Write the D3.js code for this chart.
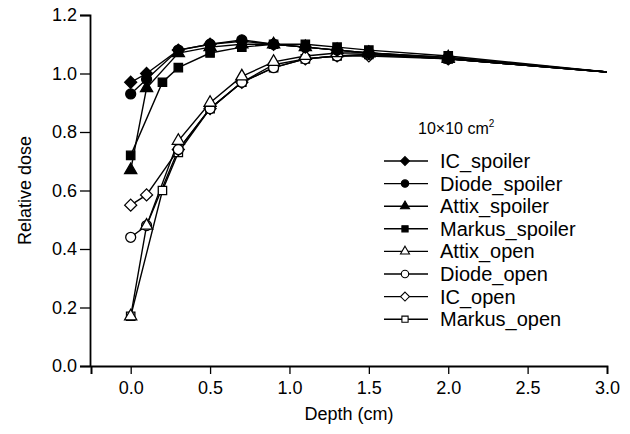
<!DOCTYPE html>
<html>
<head>
<meta charset="utf-8">
<script src="https://cdn.jsdelivr.net/npm/d3@7"></script>
<style>
  body { margin: 0; background: #fff; }
  svg { font-family: "Liberation Sans", Arial, sans-serif; }
</style>
</head>
<body>
<div id="chart"></div>
<script>
// depths where each series was measured (cm)
const depthsA = [0, 0.1, 0.3, 0.5, 0.7, 0.9, 1.1, 1.3, 1.5, 2.0, 3.0];
const depthsB = [0, 0.2, 0.3, 0.5, 0.7, 0.9, 1.1, 1.3, 1.5, 2.0, 3.0];

const icSpoiler     = [0.97, 1.00, 1.08, 1.10, 1.11, 1.10, 1.09, 1.08, 1.07, 1.055, 1.005];
const diodeSpoiler  = [0.93, 0.98, 1.08, 1.10, 1.115, 1.10, 1.09, 1.08, 1.07, 1.05, 1.005];
const attixSpoiler  = [0.67, 0.95, 1.07, 1.09, 1.10, 1.10, 1.09, 1.08, 1.07, 1.055, 1.005];
const markusSpoiler = [0.72, 0.97, 1.02, 1.07, 1.09, 1.10, 1.10, 1.09, 1.08, 1.06, 1.005];
const attixOpen     = [0.17, 0.48, 0.77, 0.90, 0.99, 1.04, 1.06, 1.07, 1.07, 1.05, 1.005];
const diodeOpen     = [0.44, 0.48, 0.74, 0.88, 0.97, 1.02, 1.05, 1.06, 1.065, 1.05, 1.005];
const icOpen        = [0.55, 0.585, 0.74, 0.88, 0.97, 1.03, 1.05, 1.06, 1.06, 1.05, 1.005];
const markusOpen    = [0.17, 0.60, 0.73, 0.88, 0.97, 1.02, 1.05, 1.06, 1.065, 1.05, 1.005];

const seriesNames = ["IC_spoiler", "Diode_spoiler", "Attix_spoiler", "Markus_spoiler",
                     "Attix_open", "Diode_open", "IC_open", "Markus_open"];

const xTickValues = [0, 0.5, 1.0, 1.5, 2.0, 2.5, 3.0];
const yTickValues = [0, 0.2, 0.4, 0.6, 0.8, 1.0, 1.2];

const W = 630, H = 434;

// square diamond (rotated square), d3.symbolDiamond is too narrow
const squareDiamond = {
  draw: (ctx, size) => {
    let r = Math.sqrt(size / 2);
    ctx.moveTo(0, -r); ctx.lineTo(r, 0); ctx.lineTo(0, r); ctx.lineTo(-r, 0); ctx.closePath();
  }
};

// symbol + fill for each series, same order as seriesNames
const series = [
  {name: seriesNames[0], depth: depthsA, values: icSpoiler,     sym: squareDiamond,    size: 72, filled: true},
  {name: seriesNames[1], depth: depthsA, values: diodeSpoiler,  sym: d3.symbolCircle,   size: 78, filled: true},
  {name: seriesNames[2], depth: depthsA, values: attixSpoiler,  sym: d3.symbolTriangle, size: 64, filled: true},
  {name: seriesNames[3], depth: depthsB, values: markusSpoiler, sym: d3.symbolSquare,   size: 70, filled: true},
  {name: seriesNames[4], depth: depthsA, values: attixOpen,     sym: d3.symbolTriangle, size: 64, filled: false},
  {name: seriesNames[5], depth: depthsA, values: diodeOpen,     sym: d3.symbolCircle,   size: 78, filled: false},
  {name: seriesNames[6], depth: depthsA, values: icOpen,        sym: squareDiamond,    size: 72, filled: false},
  {name: seriesNames[7], depth: depthsB, values: markusOpen,    sym: d3.symbolSquare,   size: 70, filled: false}
];

let x = d3.scaleLinear().domain([-0.25, 3.0]).range([91, 607]);
let y = d3.scaleLinear().domain([0, 1.2]).range([366, 15]);

let svg = d3.select("#chart").append("svg")
    .attr("width", W)
    .attr("height", H)
    .attr("viewBox", `0 0 ${W} ${H}`);

/* X axis */
let xAxis = svg.append("g")
    .attr("transform", `translate(0, ${y(0)})`)
    .call(d3.axisBottom(x).tickValues([-0.25].concat(xTickValues)).tickSize(8).tickPadding(7)
          .tickFormat(d => d < 0 ? "" : d3.format(".1f")(d)));
/* Y axis */
let yAxis = svg.append("g")
    .attr("transform", `translate(${x(-0.25) - 1}, 0)`)
    .call(d3.axisLeft(y).tickValues(yTickValues).tickSize(10).tickPadding(3)
          .tickFormat(d3.format(".1f")));

[xAxis, yAxis].forEach(g => {
  g.select(".domain").attr("stroke", "#000").attr("stroke-width", 1.8);
  g.selectAll(".tick line").attr("stroke", "#000").attr("stroke-width", 1.3);
  g.selectAll(".tick text").attr("fill", "#000").style("font-size", "18px");
});

// axis labels
svg.append("text")
    .attr("x", 349).attr("y", 420)
    .attr("text-anchor", "middle")
    .style("font-size", "18px")
    .text("Depth (cm)");
svg.append("text")
    .attr("transform", `translate(31, ${y(0.6)}) rotate(-90)`)
    .attr("text-anchor", "middle")
    .style("font-size", "18px")
    .text("Relative dose");

/* Lines + markers */
let line = d3.line().x(d => x(d[0])).y(d => y(d[1]));

let plot = svg.append("g");
series.slice().reverse().forEach(s => {
  let pts = s.depth.map((d, i) => [d, s.values[i]]);
  plot.append("path")
      .attr("d", line(pts))
      .attr("fill", "none")
      .attr("stroke", "#000")
      .attr("stroke-width", 1.4);
});
series.slice().reverse().forEach(s => {
  let pts = s.depth.map((d, i) => [d, s.values[i]]).filter(p => p[0] < 3);
  plot.selectAll(null)
      .data(pts)
      .join("path")
      .attr("transform", p => `translate(${x(p[0])}, ${y(p[1])})`)
      .attr("d", d3.symbol().type(s.sym).size(s.size))
      .attr("fill", s.filled ? "#000" : "#fff")
      .attr("stroke", "#000")
      .attr("stroke-width", 1.3);
});

/* Field size note */
let note = svg.append("text")
    .attr("x", 418).attr("y", 134)
    .style("font-size", "16px");
note.append("tspan").text("10\u00d710 cm");
note.append("tspan").attr("dy", -7).style("font-size", "10px").text("2");

/* Legend */
const legY0 = 161, legStep = 22.6;
let legend = svg.append("g");
series.forEach((s, i) => {
  let gy = legY0 + i * legStep;
  let row = legend.append("g").attr("transform", `translate(0, ${gy})`);
  row.append("line")
      .attr("x1", 384).attr("x2", 428)
      .attr("stroke", "#000").attr("stroke-width", 1.4);
  row.append("path")
      .attr("transform", "translate(405, 0)")
      .attr("d", d3.symbol().type(s.sym).size(s.size * 0.55))
      .attr("fill", s.filled ? "#000" : "#fff")
      .attr("stroke", "#000")
      .attr("stroke-width", 1.1);
  row.append("text")
      .attr("x", 440).attr("dy", "0.35em")
      .style("font-size", "20px")
      .text(s.name);
});
</script>
</body>
</html>
